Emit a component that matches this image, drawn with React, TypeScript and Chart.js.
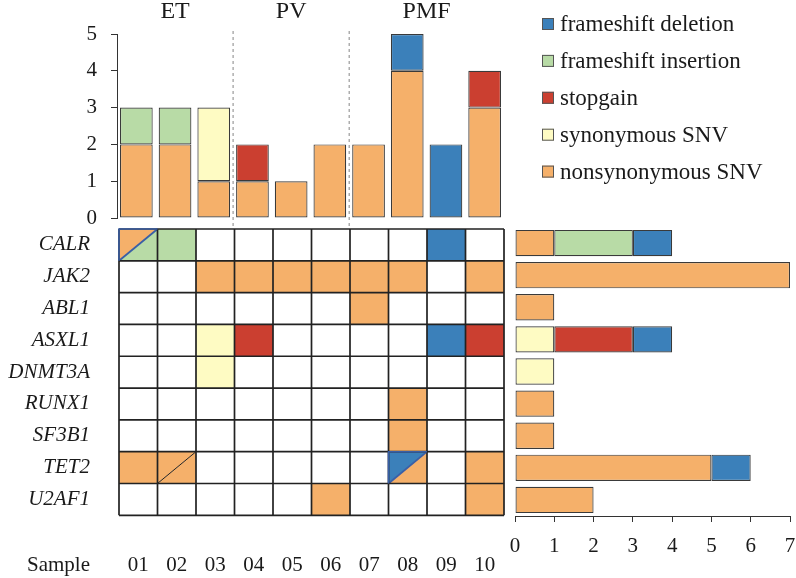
import React, { useEffect, useRef } from 'react';
import { Chart, registerables } from 'chart.js';
Chart.register(...registerables);

const SERIF = '"Liberation Serif", "Times New Roman", serif';
const INK = '#1a1a1a';

const samples = ['01', '02', '03', '04', '05', '06', '07', '08', '09', '10'];
const genes = ['CALR', 'JAK2', 'ABL1', 'ASXL1', 'DNMT3A', 'RUNX1', 'SF3B1', 'TET2', 'U2AF1'];

const groupLabels = ['ET', 'PV', 'PMF'];
const groupFirst = [0, 3, 6];
const groupLast = [2, 5, 9];

const typeNames = ['nonsynonymous SNV', 'synonymous SNV', 'stopgain', 'frameshift insertion', 'frameshift deletion'];
const typeCodes = ['N', 'S', 'X', 'I', 'D'];
const typeColors = ['#f5b06a', '#fefbc3', '#cb3f30', '#b8dba6', '#3b80ba'];
const legendOrder = [4, 3, 2, 1, 0];

// mutations per sample (top bars)
const sampleNonsyn = [2, 2, 1, 1, 1, 2, 2, 4, 0, 3];
const sampleSyn = [0, 0, 2, 0, 0, 0, 0, 0, 0, 0];
const sampleStop = [0, 0, 0, 1, 0, 0, 0, 0, 0, 1];
const sampleIns = [1, 1, 0, 0, 0, 0, 0, 0, 0, 0];
const sampleDel = [0, 0, 0, 0, 0, 0, 0, 1, 2, 0];

// mutations per gene (right bars)
const geneNonsyn = [1, 7, 1, 0, 0, 1, 1, 5, 2];
const geneSyn = [0, 0, 0, 1, 1, 0, 0, 0, 0];
const geneStop = [0, 0, 0, 2, 0, 0, 0, 0, 0];
const geneIns = [2, 0, 0, 0, 0, 0, 0, 0, 0];
const geneDel = [1, 0, 0, 1, 0, 0, 0, 1, 0];

// oncoprint cells: code or "upperLeft/lowerRight"
const cellsCALR = ['N/I', 'I', '', '', '', '', '', '', 'D', ''];
const cellsJAK2 = ['', '', 'N', 'N', 'N', 'N', 'N', 'N', '', 'N'];
const cellsABL1 = ['', '', '', '', '', '', 'N', '', '', ''];
const cellsASXL1 = ['', '', 'S', 'X', '', '', '', '', 'D', 'X'];
const cellsDNMT3A = ['', '', 'S', '', '', '', '', '', '', ''];
const cellsRUNX1 = ['', '', '', '', '', '', '', 'N', '', ''];
const cellsSF3B1 = ['', '', '', '', '', '', '', 'N', '', ''];
const cellsTET2 = ['N', 'N/N', '', '', '', '', '', 'D/N', '', 'N'];
const cellsU2AF1 = ['', '', '', '', '', 'N', '', '', '', 'N'];
const cellRows = [cellsCALR, cellsJAK2, cellsABL1, cellsASXL1, cellsDNMT3A, cellsRUNX1, cellsSF3B1, cellsTET2, cellsU2AF1];

const sampleCounts = [sampleNonsyn, sampleSyn, sampleStop, sampleIns, sampleDel];
const geneCounts = [geneNonsyn, geneSyn, geneStop, geneIns, geneDel];

const colorOf = (code: string) => typeColors[typeCodes.indexOf(code)];
const nz = (arr: number[]) => arr.map((v) => (v === 0 ? null : v));

const noPad = (s: any) => {
  s.paddingTop = 0;
  s.paddingBottom = 0;
  s.paddingLeft = 0;
  s.paddingRight = 0;
};

const topDecor = {
  id: 'topDecor',
  afterDraw(chart: any) {
    const ctx = chart.ctx;
    const x = chart.scales.x;
    ctx.save();
    ctx.strokeStyle = '#9a9a9a';
    ctx.lineWidth = 1.2;
    ctx.setLineDash([3, 3]);
    for (let g = 1; g < groupFirst.length; g++) {
      const px = (x.getPixelForValue(groupFirst[g] - 1) + x.getPixelForValue(groupFirst[g])) / 2;
      ctx.beginPath();
      ctx.moveTo(px, 31);
      ctx.lineTo(px, 228);
      ctx.stroke();
    }
    ctx.setLineDash([]);
    ctx.fillStyle = INK;
    ctx.font = `24px ${SERIF}`;
    ctx.textAlign = 'center';
    ctx.textBaseline = 'middle';
    groupLabels.forEach((lab, g) => {
      const px = (x.getPixelForValue(groupFirst[g]) + x.getPixelForValue(groupLast[g])) / 2;
      ctx.fillText(lab, px, 12);
    });
    ctx.font = `23px ${SERIF}`;
    ctx.textAlign = 'left';
    legendOrder.forEach((ti, k) => {
      const cy = 24 + k * 36.9;
      ctx.fillStyle = typeColors[ti];
      ctx.fillRect(542, cy - 6, 12, 12);
      ctx.strokeStyle = '#555';
      ctx.lineWidth = 1;
      ctx.strokeRect(542.5, cy - 5.5, 11, 11);
      ctx.fillStyle = INK;
      ctx.fillText(typeNames[ti], 560, cy + 1);
    });
    ctx.restore();
  },
};

const gridDecor = {
  id: 'gridDecor',
  afterDraw(chart: any) {
    const ctx = chart.ctx;
    const x = chart.scales.x;
    const y = chart.scales.y;
    const hw = Math.abs(x.getPixelForValue(1) - x.getPixelForValue(0)) / 2;
    const hh = Math.abs(y.getPixelForValue(1) - y.getPixelForValue(0)) / 2;
    ctx.save();
    cellRows.forEach((row, gi) => {
      row.forEach((code, si) => {
        if (!code) return;
        const cx = x.getPixelForValue(si);
        const cy = y.getPixelForValue(gi);
        const l = cx - hw, r = cx + hw, t = cy - hh, b = cy + hh;
        if (code.includes('/')) {
          const [a, c] = code.split('/');
          ctx.fillStyle = colorOf(a);
          ctx.beginPath();
          ctx.moveTo(l, t); ctx.lineTo(r, t); ctx.lineTo(l, b); ctx.closePath();
          ctx.fill();
          ctx.fillStyle = colorOf(c);
          ctx.beginPath();
          ctx.moveTo(r, t); ctx.lineTo(r, b); ctx.lineTo(l, b); ctx.closePath();
          ctx.fill();
          ctx.strokeStyle = a === c ? '#222' : '#3a5fa6';
          ctx.lineWidth = a === c ? 1 : 1.8;
          ctx.beginPath();
          ctx.moveTo(l, b); ctx.lineTo(r, t);
          ctx.stroke();
        } else {
          ctx.fillStyle = colorOf(code);
          ctx.fillRect(l, t, 2 * hw, 2 * hh);
        }
      });
    });
    ctx.strokeStyle = '#222';
    ctx.lineWidth = 1.7;
    const left = x.getPixelForValue(0) - hw;
    const right = x.getPixelForValue(samples.length - 1) + hw;
    const top = y.getPixelForValue(0) - hh;
    const bottom = y.getPixelForValue(genes.length - 1) + hh;
    ctx.beginPath();
    for (let i = 0; i <= samples.length; i++) {
      const px = left + (i * (right - left)) / samples.length;
      ctx.moveTo(px, top); ctx.lineTo(px, bottom);
    }
    for (let j = 0; j <= genes.length; j++) {
      const py = top + (j * (bottom - top)) / genes.length;
      ctx.moveTo(left, py); ctx.lineTo(right, py);
    }
    ctx.stroke();
    cellRows.forEach((row, gi) => {
      row.forEach((code, si) => {
        if (!code.includes('/')) return;
        const [a, c] = code.split('/');
        if (a === c) return;
        const cx = x.getPixelForValue(si);
        const cy = y.getPixelForValue(gi);
        ctx.strokeStyle = '#3a5fa6';
        ctx.lineWidth = 1.6;
        ctx.beginPath();
        ctx.moveTo(cx - hw, cy + hh);
        ctx.lineTo(cx - hw, cy - hh);
        ctx.lineTo(cx + hw, cy - hh);
        ctx.stroke();
      });
    });
    ctx.fillStyle = INK;
    ctx.font = `21px ${SERIF}`;
    ctx.textAlign = 'right';
    ctx.textBaseline = 'middle';
    ctx.fillText('Sample', 90, bottom + 50);
    ctx.restore();
  },
};

function TopChart() {
  const ref = useRef<HTMLCanvasElement>(null);
  useEffect(() => {
    const chart = new Chart(ref.current as HTMLCanvasElement, {
      type: 'bar',
      data: {
        labels: samples,
        datasets: typeNames.map((n, i) => ({
          label: n,
          data: nz(sampleCounts[i]) as any,
          backgroundColor: typeColors[i],
          borderColor: '#3a3a3a',
          borderWidth: 1.2,
          borderSkipped: false,
          barPercentage: 0.845,
          categoryPercentage: 1,
        })),
      },
      options: {
        responsive: false,
        animation: false,
        layout: { padding: { left: 0, right: 292, top: 34, bottom: 12 } },
        plugins: { legend: { display: false }, tooltip: { enabled: false } },
        scales: {
          x: { stacked: true, display: false },
          y: {
            stacked: true,
            min: 0,
            max: 5,
            ticks: { stepSize: 1, padding: 14, color: INK, font: { family: SERIF, size: 21 } },
            grid: { drawOnChartArea: false, tickLength: 6, color: '#333' },
            border: { color: '#333', width: 1 },
            afterFit: (s: any) => { s.width = 117; noPad(s); },
          },
        },
      } as any,
      plugins: [topDecor],
    });
    return () => chart.destroy();
  }, []);
  return <canvas ref={ref} width={796} height={230} style={{ position: 'absolute', left: 0, top: 0 }} />;
}

function GridChart() {
  const ref = useRef<HTMLCanvasElement>(null);
  useEffect(() => {
    const chart = new Chart(ref.current as HTMLCanvasElement, {
      type: 'bar',
      data: { labels: samples, datasets: [] },
      options: {
        responsive: false,
        animation: false,
        layout: { padding: { left: 0, right: 6, top: 9, bottom: 0 } },
        plugins: { legend: { display: false }, tooltip: { enabled: false } },
        scales: {
          x: {
            type: 'category',
            offset: true,
            ticks: { padding: 38, color: INK, font: { family: SERIF, size: 21 }, maxRotation: 0, autoSkip: false },
            grid: { display: false, drawTicks: false },
            border: { display: false },
            afterFit: (s: any) => { s.height = 62.7; noPad(s); },
          },
          y: {
            type: 'category',
            labels: genes,
            offset: true,
            ticks: { padding: 29, color: INK, font: { family: SERIF, size: 21, style: 'italic' }, autoSkip: false },
            grid: { display: false, drawTicks: false },
            border: { display: false },
            afterFit: (s: any) => { s.width = 119; noPad(s); },
          },
        },
      } as any,
      plugins: [gridDecor],
    });
    return () => chart.destroy();
  }, []);
  return <canvas ref={ref} width={510} height={358} style={{ position: 'absolute', left: 0, top: 220 }} />;
}

function RightChart() {
  const ref = useRef<HTMLCanvasElement>(null);
  useEffect(() => {
    const chart = new Chart(ref.current as HTMLCanvasElement, {
      type: 'bar',
      data: {
        labels: genes,
        datasets: typeNames.map((n, i) => ({
          label: n,
          data: nz(geneCounts[i]) as any,
          backgroundColor: typeColors[i],
          borderColor: '#3a3a3a',
          borderWidth: 1.2,
          borderSkipped: false,
          barPercentage: 0.82,
          categoryPercentage: 1,
        })),
      },
      options: {
        indexAxis: 'y',
        responsive: false,
        animation: false,
        layout: { padding: { left: 10, right: 6, top: 7, bottom: 0 } },
        plugins: { legend: { display: false }, tooltip: { enabled: false } },
        scales: {
          x: {
            stacked: true,
            min: 0,
            max: 7,
            ticks: { stepSize: 1, padding: 12, color: INK, font: { family: SERIF, size: 21 }, maxRotation: 0 },
            grid: { drawOnChartArea: false, tickLength: 6, color: '#333' },
            border: { color: '#333', width: 1 },
            afterFit: (s: any) => { s.height = 62; noPad(s); },
          },
          y: { stacked: true, display: false, offset: true },
        },
      } as any,
    });
    return () => chart.destroy();
  }, []);
  return <canvas ref={ref} width={291} height={358} style={{ position: 'absolute', left: 505, top: 220 }} />;
}

export default function App() {
  return (
    <div style={{ position: 'absolute', left: 0, top: 0, width: 796, height: 578, background: '#fff', overflow: 'hidden' }}>
      <TopChart />
      <GridChart />
      <RightChart />
    </div>
  );
}
